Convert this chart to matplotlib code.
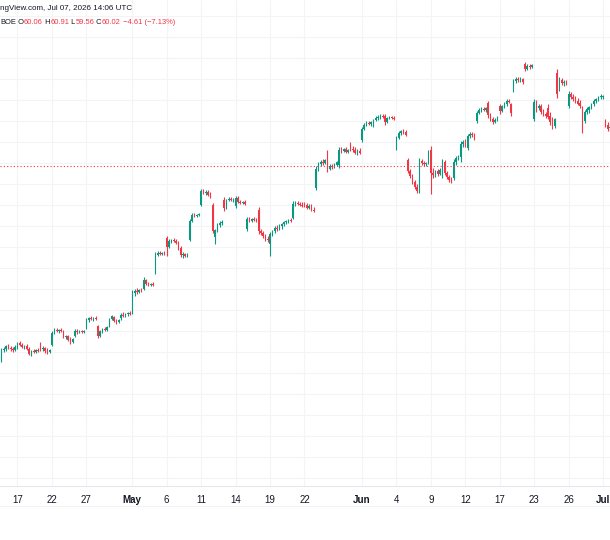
import numpy as np
import pandas as pd
import matplotlib
matplotlib.use("Agg")
from matplotlib import pyplot as plt
from matplotlib.lines import Line2D

UP = '#089981'
DOWN = '#f23645'
TXT = '#131722'
GRID = '#f3f4f6'
FONT = 'Liberation Sans'

# 5 bars per session, Apr 15 -> Jul 1 2026 (Memorial day, Juneteenth closed)
sessions = pd.bdate_range('2026-04-15', '2026-07-01', freq='C',
                          holidays=['2026-05-25', '2026-06-19'])
per_day = 5

opens = [41.2, 41.1, 41.0, 40.6, 41.6, 41.7, 42.0, 41.8, 41.7, 41.6,
         41.9, 42.3, 42.1, 41.9, 42.0, 41.7, 41.2, 41.5, 41.4, 41.6,
         42.2, 41.7, 41.8, 41.5, 41.4, 42.1, 43.3, 43.6, 43.5, 43.6,
         43.4, 42.9, 43.0, 42.6, 42.4, 43.0, 43.5, 43.4, 43.5, 43.4,
         43.8, 44.6, 44.8, 44.7, 44.8, 44.0, 43.0, 43.5, 43.7, 43.6,
         44.0, 44.7, 44.9, 44.5, 44.4, 44.8, 45.1, 45.0, 45.2, 45.3,
         45.3, 47.3, 47.5, 47.4, 47.6, 47.7, 48.6, 48.2, 48.1, 48.2,
         49.4, 51.1, 51.3, 51.2, 51.3, 52.8, 51.9, 52.5, 52.6, 52.5,
         52.3, 51.8, 51.1, 51.2, 51.0, 52.6, 54.5, 55.1, 55.0, 55.1,
         56.1, 57.5, 57.3, 57.4, 57.1, 56.1, 52.9, 53.6, 54.1, 54.3,
         56.6, 55.8, 56.6, 56.7, 56.6, 56.0, 56.8, 56.4, 56.3, 56.4,
         53.7, 54.7, 54.5, 54.7, 54.6, 55.6, 53.5, 53.3, 53.0, 52.7,
         52.2, 53.2, 53.5, 53.8, 53.7, 54.0, 54.2, 54.4, 54.5, 54.6,
         54.8, 56.2, 56.3, 56.2, 56.1, 56.2, 56.1, 55.8, 56.0, 55.6,
         57.8, 59.7, 60.2, 60.4, 60.3, 61.2, 59.7, 60.0, 59.9, 60.1,
         60.1, 61.6, 61.5, 61.7, 61.4, 62.1, 61.7, 61.6, 61.3, 61.5,
         62.6, 63.7, 64.1, 64.3, 64.2, 64.0, 64.6, 64.8, 64.9, 65.0,
         65.0, 64.4, 64.8, 64.9, 64.8, 61.8, 62.8, 63.3, 63.5, 63.4,
         60.6, 59.5, 59.0, 58.4, 57.9, 57.6, 60.5, 60.3, 60.2, 60.3,
         61.6, 59.3, 59.1, 59.5, 59.2, 59.0, 60.4, 59.3, 58.9, 58.6,
         58.8, 60.4, 60.8, 60.9, 62.2, 62.4, 61.8, 63.0, 63.2, 63.1,
         64.5, 65.3, 65.6, 65.7, 65.6, 66.3, 65.1, 64.7, 64.4, 64.6,
         66.0, 65.5, 66.0, 66.2, 66.5, 66.2, 67.5, 68.5, 68.7, 68.6,
         68.7, 70.2, 69.7, 70.0, 69.9, 64.7, 66.4, 65.8, 66.0, 65.4,
         65.2, 65.8, 65.0, 64.6, 64.0, 69.3, 67.6, 68.6, 68.3, 68.4,
         66.0, 67.2, 66.9, 66.7, 66.5, 66.3, 65.8, 64.5, 65.4, 65.6,
         65.9, 66.2, 66.5, 66.7, 66.9, 66.9, 64.5, 64.1, 63.8, 63.9]

highs = [41.4, 41.3, 41.1, 41.8, 41.9, 42.1, 42.2, 42.0, 41.9, 42.1,
         42.4, 42.5, 42.3, 42.1, 42.2, 41.9, 41.6, 41.7, 41.7, 41.8,
         42.4, 42.0, 41.9, 41.8, 41.7, 43.5, 43.8, 43.8, 43.7, 43.8,
         43.6, 43.1, 43.1, 42.9, 42.8, 43.7, 43.7, 43.6, 43.6, 43.6,
         44.8, 44.9, 45.0, 44.9, 45.0, 44.1, 43.6, 43.8, 43.9, 44.0,
         44.8, 45.1, 45.0, 44.7, 44.7, 45.3, 45.4, 45.3, 45.4, 45.5,
         47.6, 47.7, 47.8, 47.7, 47.8, 48.9, 48.7, 48.4, 48.3, 48.4,
         51.4, 51.5, 51.5, 51.4, 51.5, 53.0, 52.7, 52.7, 52.8, 52.7,
         52.5, 52.0, 51.4, 51.3, 51.3, 54.7, 55.3, 55.3, 55.2, 55.3,
         57.7, 57.7, 57.6, 57.6, 57.4, 56.3, 53.7, 54.3, 54.5, 54.6,
         56.9, 56.7, 56.9, 56.9, 56.8, 57.0, 57.0, 56.6, 56.5, 56.6,
         54.9, 54.9, 54.8, 54.9, 54.8, 55.9, 53.7, 53.5, 53.2, 53.0,
         53.4, 53.6, 54.0, 54.1, 54.2, 54.3, 54.5, 54.6, 54.7, 54.8,
         56.5, 56.5, 56.5, 56.4, 56.4, 56.4, 56.3, 56.2, 56.2, 55.9,
         60.0, 60.4, 60.6, 60.7, 60.7, 61.6, 60.2, 60.2, 60.3, 60.5,
         61.9, 61.9, 61.8, 61.9, 61.7, 62.4, 62.0, 61.9, 61.7, 61.8,
         63.9, 64.3, 64.5, 64.5, 64.5, 64.7, 65.0, 65.1, 65.2, 65.2,
         65.2, 64.9, 65.0, 65.0, 65.0, 63.0, 63.5, 63.6, 63.7, 63.6,
         60.8, 59.7, 59.2, 58.6, 58.2, 60.8, 60.7, 60.5, 60.4, 61.6,
         62.0, 59.8, 59.6, 59.7, 59.8, 60.7, 60.6, 59.5, 59.1, 58.9,
         60.7, 61.0, 61.1, 62.5, 62.6, 62.7, 63.2, 63.4, 63.4, 63.3,
         65.5, 65.8, 65.9, 65.9, 65.9, 66.5, 65.3, 64.9, 64.8, 65.0,
         66.2, 66.1, 66.4, 66.7, 66.7, 66.3, 68.7, 68.9, 68.9, 68.9,
         68.8, 70.4, 70.2, 70.2, 70.2, 66.7, 66.6, 66.2, 66.2, 65.7,
         65.4, 66.2, 65.4, 64.9, 64.8, 69.7, 68.9, 68.8, 68.6, 68.6,
         67.5, 67.4, 67.2, 67.0, 66.8, 66.6, 66.0, 65.6, 65.9, 66.0,
         66.3, 66.7, 66.8, 67.0, 67.2, 67.1, 64.7, 64.4, 64.2, 64.1]

lows = [40.9, 40.8, 40.6, 40.4, 41.4, 41.5, 41.7, 41.5, 41.4, 41.5,
        41.7, 42.0, 41.8, 41.7, 41.6, 41.1, 41.0, 41.3, 41.3, 41.4,
        41.5, 41.5, 41.3, 41.2, 41.3, 42.0, 43.2, 43.4, 43.3, 43.4,
        42.8, 42.7, 42.5, 42.2, 42.3, 42.9, 43.2, 43.3, 43.3, 43.3,
        43.7, 44.4, 44.6, 44.5, 44.6, 42.8, 42.9, 43.3, 43.5, 43.5,
        43.9, 44.6, 44.4, 44.2, 44.3, 44.6, 44.9, 44.9, 45.0, 45.1,
        45.2, 47.0, 47.2, 47.3, 47.4, 47.6, 48.1, 48.0, 48.0, 48.0,
        49.2, 51.0, 51.1, 51.1, 51.1, 51.0, 51.8, 52.3, 52.4, 52.2,
        51.6, 50.9, 50.8, 50.9, 50.9, 52.5, 54.4, 54.9, 54.9, 55.0,
        56.0, 57.2, 57.1, 57.0, 56.8, 53.3, 52.2, 53.4, 53.9, 54.1,
        55.5, 55.7, 56.5, 56.5, 56.4, 55.8, 56.3, 56.2, 56.2, 56.1,
        53.5, 54.4, 54.4, 54.5, 54.4, 53.2, 53.1, 52.8, 52.5, 52.4,
        51.0, 53.0, 53.3, 53.5, 53.6, 53.7, 54.0, 54.2, 54.3, 54.4,
        54.7, 56.0, 56.1, 56.0, 55.9, 55.9, 55.7, 55.7, 55.5, 55.4,
        57.6, 59.5, 60.0, 60.1, 60.2, 59.4, 59.6, 59.7, 59.8, 60.0,
        59.8, 61.3, 61.4, 61.3, 61.3, 61.5, 61.4, 61.2, 61.1, 61.2,
        62.4, 63.6, 64.0, 64.1, 64.0, 63.9, 64.5, 64.6, 64.7, 64.8,
        64.1, 64.3, 64.7, 64.7, 64.6, 61.6, 62.7, 63.1, 63.2, 63.0,
        59.3, 58.8, 58.2, 57.7, 57.3, 57.3, 60.1, 60.0, 60.0, 60.2,
        57.2, 58.8, 58.9, 59.0, 59.1, 58.8, 59.1, 58.7, 58.4, 58.3,
        58.6, 60.1, 60.6, 60.4, 61.9, 61.9, 61.6, 62.8, 62.9, 62.6,
        64.3, 65.2, 65.4, 65.5, 65.4, 64.8, 64.5, 64.2, 64.3, 64.5,
        65.2, 65.4, 65.8, 66.0, 66.3, 65.0, 67.4, 68.3, 68.4, 68.4,
        68.2, 69.5, 69.6, 69.7, 69.8, 64.5, 65.4, 65.6, 65.2, 65.0,
        64.8, 64.7, 64.1, 63.7, 63.8, 66.8, 67.5, 68.1, 68.0, 68.1,
        65.8, 66.7, 66.5, 66.3, 66.1, 65.8, 63.3, 64.3, 65.2, 65.3,
        65.7, 66.0, 66.3, 66.5, 66.7, 66.7, 63.9, 63.5, 63.4, 63.6]

closes = [41.1, 41.0, 40.8, 41.6, 41.7, 42.0, 41.8, 41.7, 41.6, 41.9,
          42.3, 42.1, 41.9, 42.0, 41.7, 41.2, 41.5, 41.4, 41.6, 41.5,
          41.7, 41.8, 41.5, 41.4, 41.6, 43.3, 43.6, 43.5, 43.6, 43.5,
          42.9, 43.0, 42.6, 42.4, 42.7, 43.5, 43.4, 43.5, 43.4, 43.5,
          44.6, 44.8, 44.7, 44.8, 44.7, 43.0, 43.5, 43.7, 43.6, 43.9,
          44.7, 45.0, 44.5, 44.4, 44.6, 45.1, 45.0, 45.2, 45.3, 45.2,
          47.3, 47.5, 47.4, 47.6, 47.5, 48.6, 48.2, 48.1, 48.2, 48.1,
          51.1, 51.3, 51.2, 51.3, 51.2, 51.9, 52.5, 52.6, 52.5, 52.3,
          51.8, 51.1, 51.2, 51.0, 51.1, 54.5, 55.1, 55.0, 55.1, 55.2,
          57.5, 57.3, 57.4, 57.1, 56.9, 53.5, 53.6, 54.1, 54.3, 54.4,
          55.8, 56.6, 56.7, 56.6, 56.7, 56.8, 56.4, 56.3, 56.4, 56.2,
          54.7, 54.5, 54.7, 54.6, 54.5, 53.5, 53.3, 53.0, 52.7, 52.6,
          53.2, 53.5, 53.8, 53.7, 54.0, 54.2, 54.4, 54.5, 54.6, 54.5,
          56.2, 56.3, 56.2, 56.1, 56.0, 56.1, 55.8, 56.0, 55.6, 55.5,
          59.7, 60.2, 60.4, 60.3, 60.6, 59.7, 60.0, 59.9, 60.1, 60.4,
          61.6, 61.5, 61.7, 61.4, 61.6, 61.7, 61.6, 61.3, 61.5, 61.3,
          63.7, 64.1, 64.3, 64.2, 64.4, 64.6, 64.8, 64.9, 65.0, 64.9,
          64.4, 64.8, 64.9, 64.8, 64.7, 62.8, 63.3, 63.5, 63.4, 63.1,
          59.5, 59.0, 58.4, 57.9, 57.5, 60.5, 60.3, 60.2, 60.3, 61.4,
          59.3, 59.1, 59.5, 59.2, 59.6, 60.4, 59.3, 58.9, 58.6, 58.5,
          60.4, 60.8, 60.9, 62.2, 62.4, 62.2, 63.0, 63.2, 63.1, 62.7,
          65.3, 65.6, 65.7, 65.6, 65.8, 65.1, 64.7, 64.4, 64.6, 64.9,
          65.5, 66.0, 66.2, 66.5, 66.4, 65.3, 68.5, 68.7, 68.6, 68.7,
          68.4, 69.7, 70.0, 69.9, 70.1, 66.4, 65.8, 66.0, 65.4, 65.2,
          65.0, 64.9, 64.4, 64.0, 64.7, 67.2, 68.6, 68.3, 68.4, 68.2,
          67.2, 66.9, 66.7, 66.5, 66.2, 66.0, 64.0, 65.4, 65.7, 65.9,
          66.2, 66.5, 66.7, 66.9, 67.0, 67.0, 64.1, 63.7, 63.9, 63.8]

last_price = 60.02

tick_days = ['2026-04-17', '2026-04-22', '2026-04-27', '2026-05-01', '2026-05-06',
             '2026-05-11', '2026-05-14', '2026-05-19', '2026-05-22', '2026-06-01',
             '2026-06-04', '2026-06-09', '2026-06-12', '2026-06-17', '2026-06-23',
             '2026-06-26', '2026-07-01']
tick_labels = ['17', '22', '27', 'May', '6', '11', '14', '19', '22', 'Jun',
               '4', '9', '12', '17', '23', '26', 'Jul']

o = np.array(opens)
h = np.array(highs)
l = np.array(lows)
c = np.array(closes)
x = np.arange(len(o))
up = c >= o
colors = np.where(up, UP, DOWN)

W, H = 610, 540
fig = plt.figure(figsize=(W / 100, H / 100), dpi=100)
ax = fig.add_axes([0, 54 / H, 1, 486 / H])

ax.vlines(x, l, h, colors=colors, linewidth=0.8)
body = np.maximum(np.abs(c - o), 0.08)
ax.bar(x, body, bottom=np.minimum(o, c), width=0.62, color=colors, linewidth=0)

ax.axhline(last_price, color=DOWN, linestyle=(0, (1, 2)), linewidth=0.8)

ticks = [sessions.get_loc(pd.Timestamp(d)) * per_day for d in tick_days]
ax.set_xticks(ticks)
ax.set_xticklabels(tick_labels, fontsize=7, color=TXT, family=FONT)
for t in ax.get_xticklabels():
    if t.get_text() in ('May', 'Jun', 'Jul'):
        t.set_fontweight('bold')
ax.set_yticks(np.arange(28.8, 76, 2.1))
ax.tick_params(axis='both', length=0)
ax.tick_params(axis='x', pad=6.5)
ax.tick_params(axis='y', labelleft=False)
ax.grid(True, color=GRID, linewidth=0.8)
ax.set_axisbelow(True)

ax.set_xlim(2.38, 268.06)
ax.set_ylim(28.0, 76.6)
for s in ('top', 'left', 'right'):
    ax.spines[s].set_visible(False)
ax.spines['bottom'].set_color('#e6e8ee')
ax.spines['bottom'].set_linewidth(0.8)
fig.add_artist(Line2D([0, 1], [1 - 506 / H] * 2, color='#f2f3f5', linewidth=0.8))

# legend lines (cropped on the left like the screenshot)
FS = 5.8
FS2 = 5.4
probe = fig.text(0, 0, 'Tradi', fontsize=FS, family=FONT)
fig.canvas.draw()
cut = probe.get_window_extent().width / fig.bbox.width
probe.remove()
fig.text(-cut, 1 - 8 / H, 'TradingView.com, Jul 07, 2026 14:06 UTC',
         fontsize=FS, family=FONT, color=TXT, va='center')

segs = [('BOE', TXT), (' O', TXT), ('60.06', DOWN), (' H', TXT), ('60.91', DOWN),
        (' L', TXT), ('59.56', DOWN), (' C', TXT), ('60.02', DOWN),
        (' \u22124.61 (\u22127.13%)', DOWN)]
prev = fig.text(0, 1 - 23 / H, segs[0][0], fontsize=FS2, family=FONT,
                color=segs[0][1], va='center')
for s, col in segs[1:]:
    prev = ax.annotate(s, xy=(1, 0.5), xycoords=prev, va='center', ha='left',
                       fontsize=FS2, family=FONT, color=col, annotation_clip=False)

fig.savefig('out.png', dpi=100)
